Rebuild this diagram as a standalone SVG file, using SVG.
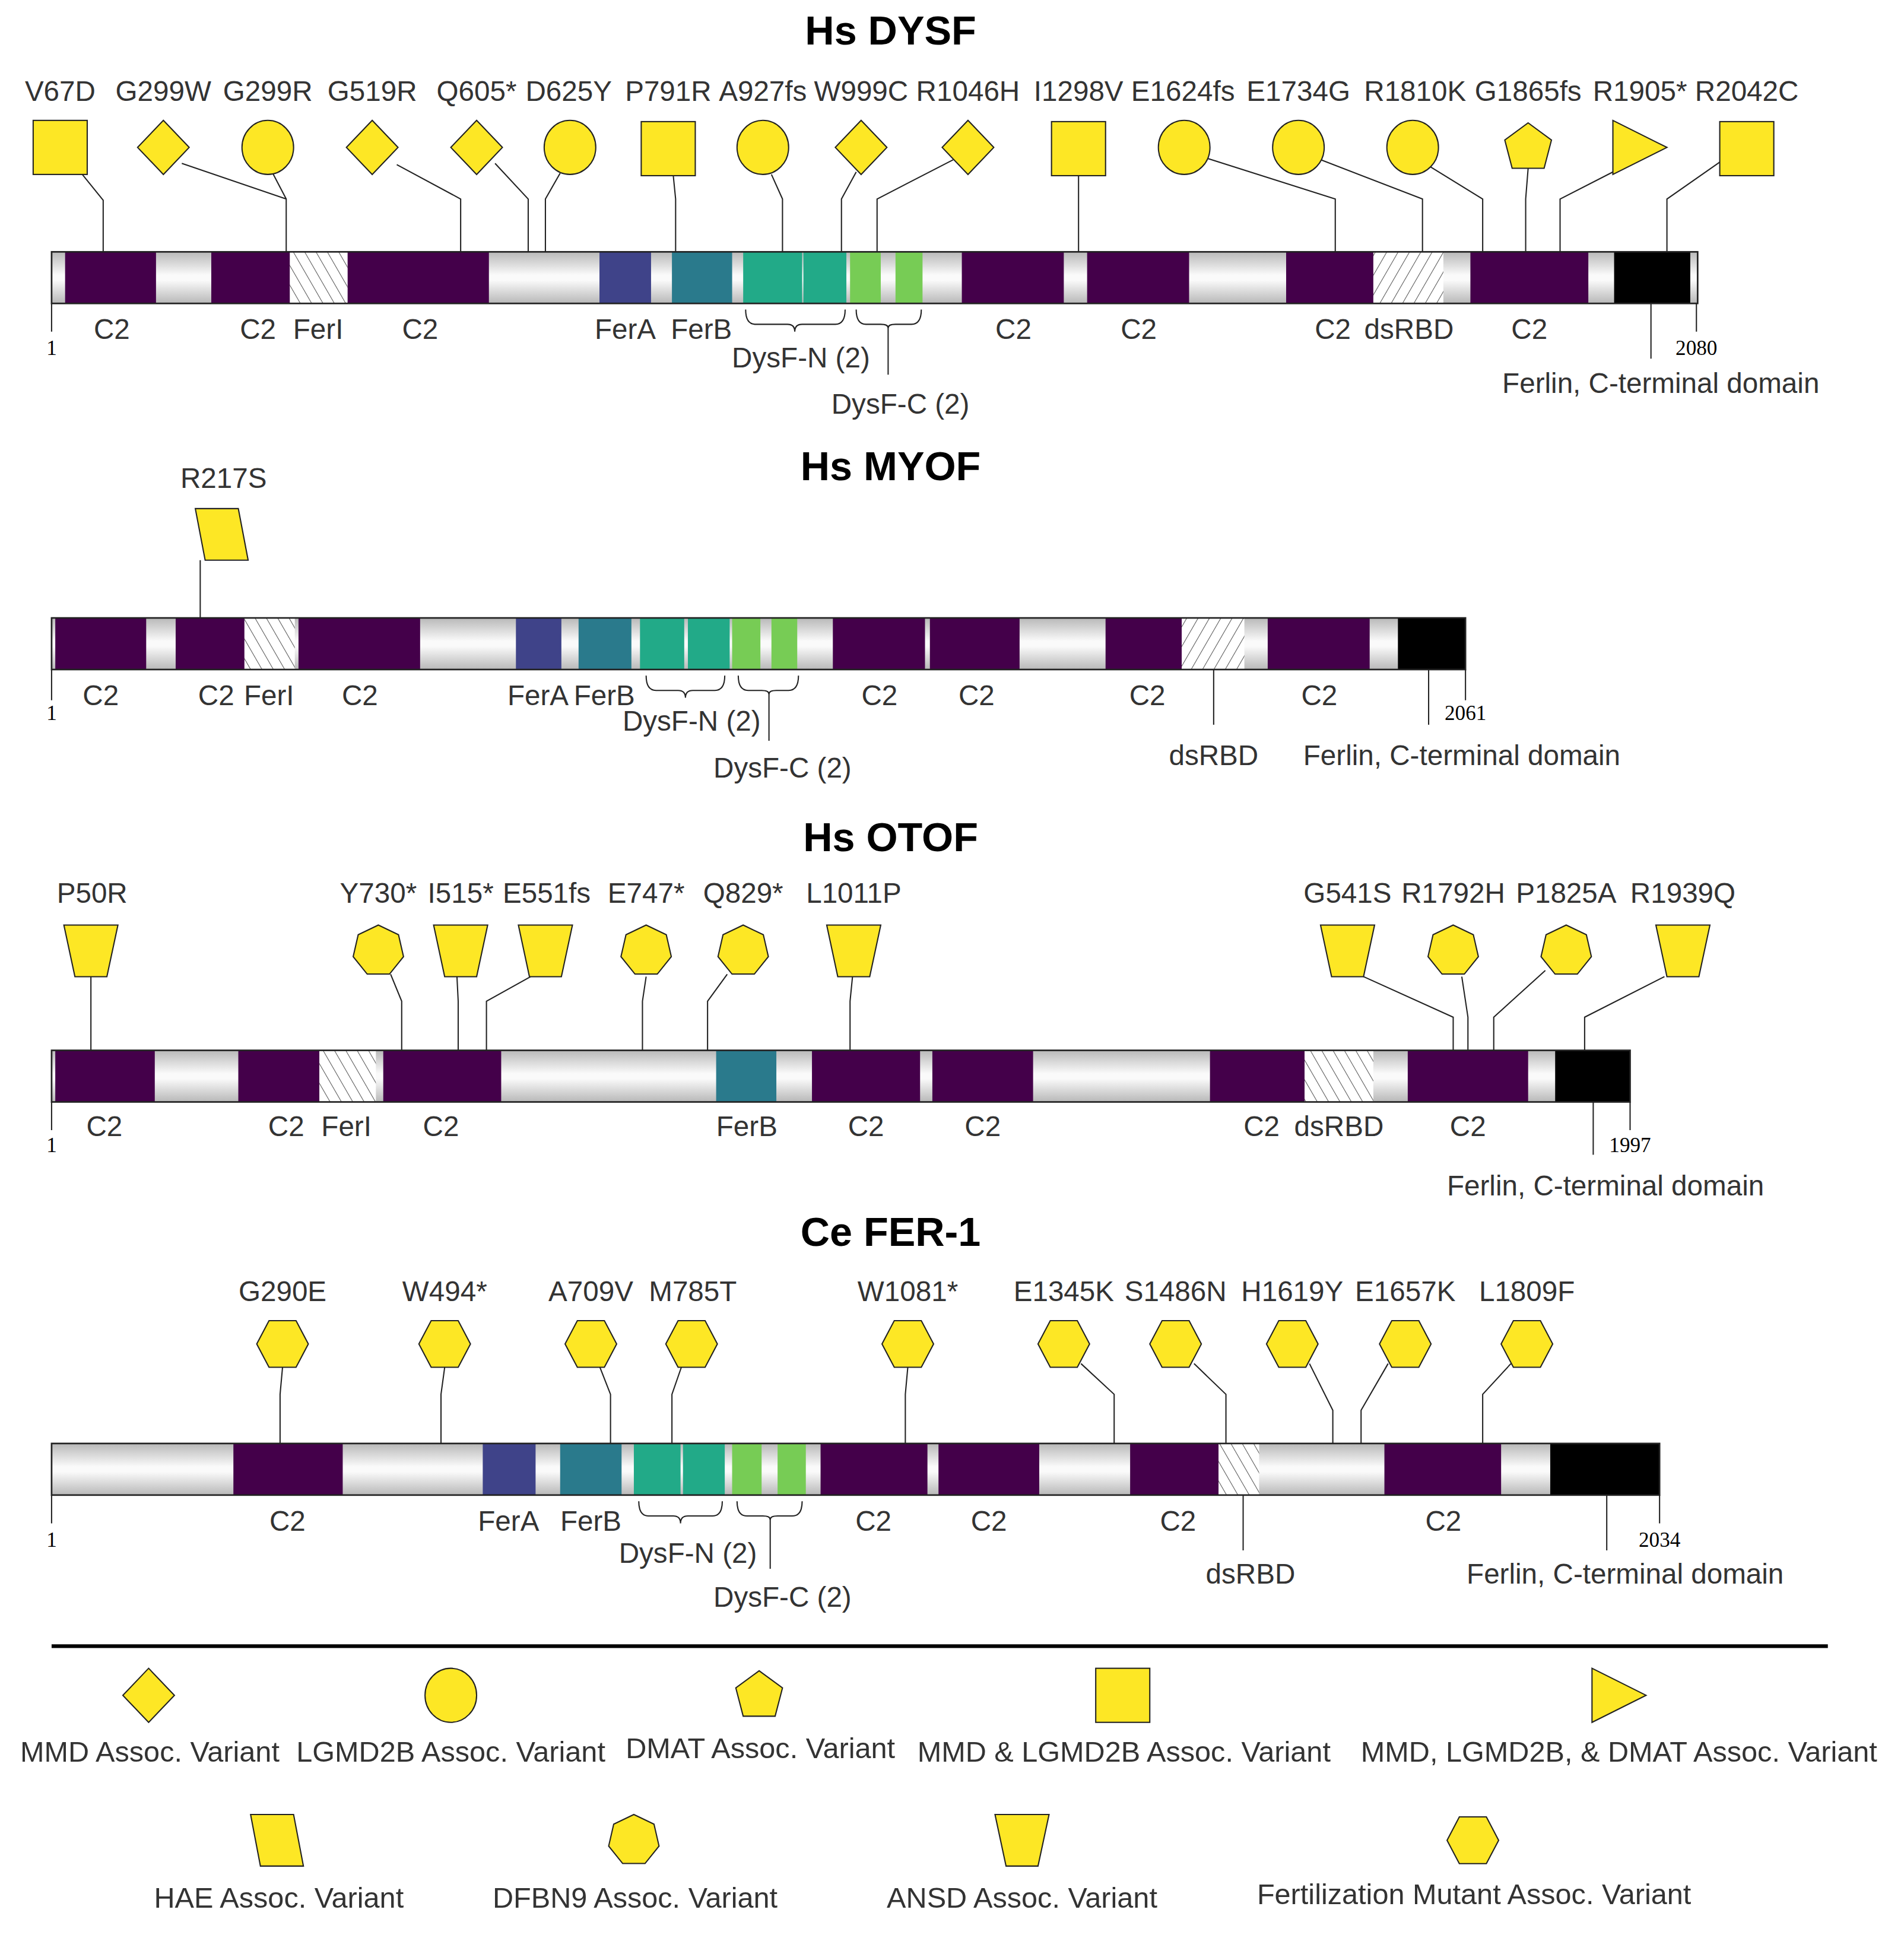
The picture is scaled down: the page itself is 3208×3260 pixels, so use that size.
<svg xmlns="http://www.w3.org/2000/svg" width="3208" height="3260" viewBox="0 0 3208 3260">
<style>
text{font-family:"Liberation Sans",Arial,sans-serif;fill:#333}
.t{font-size:33px;font-weight:bold;fill:#000;text-anchor:middle}
.m{font-size:23px;text-anchor:middle}
.d{font-size:23px;text-anchor:middle}
.n{font-family:"Liberation Serif",serif;font-size:17px;fill:#000;text-anchor:middle}
.lg{font-size:23.5px;text-anchor:middle}
.g{fill:url(#gr)}
.c2{fill:#44004a}
.fa{fill:#3f4389}
.fb{fill:#2a7a8c}
.dn{fill:#22aa88}
.dc{fill:#77cc55}
.k{fill:#000}
.h1{fill:url(#hb)}
.h2{fill:url(#hf)}
.o{fill:none;stroke:#222;stroke-width:1.3}
.s{fill:none;stroke:#222;stroke-width:1}
.y{fill:#fde725;stroke:#222;stroke-width:1}
</style>
<defs>
<linearGradient id="gr" x1="0" y1="0" x2="0" y2="1">
<stop offset="0" stop-color="#b8b8b8"/><stop offset="0.45" stop-color="#fafafa"/><stop offset="0.55" stop-color="#fafafa"/><stop offset="1" stop-color="#b8b8b8"/>
</linearGradient>
<pattern id="hb" width="8" height="8" patternUnits="userSpaceOnUse" patternTransform="rotate(-30)"><rect width="8" height="8" fill="#fff"/><line x1="0" y1="0" x2="0" y2="8" stroke="#555" stroke-width="1"/></pattern>
<pattern id="hf" width="8" height="8" patternUnits="userSpaceOnUse" patternTransform="rotate(30)"><rect width="8" height="8" fill="#fff"/><line x1="0" y1="0" x2="0" y2="8" stroke="#555" stroke-width="1"/></pattern>
<rect id="sq" class="y" x="-22" y="-22" width="44" height="44"/>
<polygon id="di" class="y" points="0,-22 21,0 0,22 -21,0"/>
<ellipse id="ci" class="y" rx="21" ry="22"/>
<polygon id="pe" class="y" points="0,-20 19,-6 13,17 -13,17 -19,-6"/>
<polygon id="tr" class="y" points="-22,-22 22,0 -22,22"/>
<polygon id="pa" class="y" points="-22,-21 13,-21 21,21 -14,21"/>
<polygon id="hp" class="y" points="0,-21 16.4,-13.1 20.5,4.7 9.1,18.9 -9.1,18.9 -20.5,4.7 -16.4,-13.1"/>
<polygon id="tz" class="y" points="-22,-21 22,-21 13,21 -13,21"/>
<polygon id="hx" class="y" points="-21,0 -11,-19 11,-19 21,0 11,19 -11,19"/>
</defs>
<rect width="3208" height="3260" fill="#fff"/>
<g transform="scale(2.0697)">

<!-- ============ DYSF ============ -->
<g id="dysf">
<text class="t" x="725" y="36">Hs DYSF</text>
<g id="dysf-bar">
<rect class="g" x="42" y="205" width="1340" height="42"/>
<rect class="c2" x="53" y="205" width="74" height="42"/>
<rect class="c2" x="172" y="205" width="64" height="42"/>
<rect class="h1" x="236" y="205" width="47" height="42"/>
<rect class="c2" x="283" y="205" width="115" height="42"/>
<rect class="fa" x="488" y="205" width="42" height="42"/>
<rect class="fb" x="547" y="205" width="49" height="42"/>
<rect class="dn" x="605" y="205" width="48" height="42"/>
<rect class="dn" x="654" y="205" width="35" height="42"/>
<rect class="dc" x="692" y="205" width="25" height="42"/>
<rect class="dc" x="729" y="205" width="22" height="42"/>
<rect class="c2" x="783" y="205" width="83" height="42"/>
<rect class="c2" x="885" y="205" width="83" height="42"/>
<rect class="c2" x="1047" y="205" width="71" height="42"/>
<rect class="h2" x="1118" y="205" width="57" height="42"/>
<rect class="c2" x="1197" y="205" width="96" height="42"/>
<rect class="k" x="1314" y="205" width="62" height="42"/>
<rect class="o" x="42" y="205" width="1340" height="42"/>
</g>
<g id="dysf-labels">
<text class="d" x="91" y="276">C2</text><text class="d" x="210" y="276">C2</text><text class="d" x="259" y="276">FerI</text><text class="d" x="342" y="276">C2</text>
<text class="d" x="509" y="276">FerA</text><text class="d" x="571" y="276">FerB</text><text class="d" x="825" y="276">C2</text><text class="d" x="927" y="276">C2</text>
<text class="d" x="1085" y="276">C2</text><text class="d" x="1147" y="276">dsRBD</text><text class="d" x="1245" y="276">C2</text>
<text class="n" x="42" y="289">1</text><text class="n" x="1381" y="289">2080</text>
<text class="d" x="652" y="299">DysF-N (2)</text><text class="d" x="733" y="337">DysF-C (2)</text>
<text class="d" x="1352" y="320">Ferlin, C-terminal domain</text>
</g>
</g>
<g id="dysf-connectors">
<path class="s" d="M42 247V270M1381 247V270M1344 247V292M723 266V305"/>
<path class="s" d="M607 252q0 12 8 12H641q6 0 6 6q0-6 6-6H680q8 0 8-12"/>
<path class="s" d="M697 252q0 12 8 12H717q6 0 6 3q0-3 6-3H742q8 0 8-12"/>
<path class="s" d="M67 142L84 163V205M148 133L233 162V205M222 141L233 162M323 134L375 162V205M403 133L430 162V205M456 141L444 162V205M548 142L550 162V205M628 142L637 162V205M697 140L685 162V205M776 130L714 162V205M878 142V205M980 128L1087 162V205M1070 128L1158 162V205M1160 133L1207 162V205M1244 137L1242 162V205M1313 140L1270 162V205M1400 132L1357 162V205"/>
</g>
<g id="dysf-mut">
<g id="m-V67D"><text class="m" x="49" y="82">V67D</text><use href="#sq" x="49" y="120"/></g>
<g id="m-G299W"><text class="m" x="133" y="82">G299W</text><use href="#di" x="133" y="120"/></g>
<g id="m-G299R"><text class="m" x="218" y="82">G299R</text><use href="#ci" x="218" y="120"/></g>
<g id="m-G519R"><text class="m" x="303" y="82">G519R</text><use href="#di" x="303" y="120"/></g>
<g id="m-Q605"><text class="m" x="388" y="82">Q605*</text><use href="#di" x="388" y="120"/></g>
<g id="m-D625Y"><text class="m" x="463" y="82">D625Y</text><use href="#ci" x="464" y="120"/></g>
<g id="m-P791R"><text class="m" x="544" y="82">P791R</text><use href="#sq" x="544" y="121"/></g>
<g id="m-A927fs"><text class="m" x="621" y="82">A927fs</text><use href="#ci" x="621" y="120"/></g>
<g id="m-W999C"><text class="m" x="701" y="82">W999C</text><use href="#di" x="701" y="120"/></g>
<g id="m-R1046H"><text class="m" x="788" y="82">R1046H</text><use href="#di" x="788" y="120"/></g>
<g id="m-I1298V"><text class="m" x="878" y="82">I1298V</text><use href="#sq" x="878" y="121"/></g>
<g id="m-E1624fs"><text class="m" x="963" y="82">E1624fs</text><use href="#ci" x="964" y="120"/></g>
<g id="m-E1734G"><text class="m" x="1057" y="82">E1734G</text><use href="#ci" x="1057" y="120"/></g>
<g id="m-R1810K"><text class="m" x="1152" y="82">R1810K</text><use href="#ci" x="1150" y="120"/></g>
<g id="m-G1865fs"><text class="m" x="1244" y="82">G1865fs</text><use href="#pe" x="1244" y="120"/></g>
<g id="m-R1905"><text class="m" x="1335" y="82">R1905*</text><use href="#tr" x="1335" y="120"/></g>
<g id="m-R2042C"><text class="m" x="1422" y="82">R2042C</text><use href="#sq" x="1422" y="121"/></g>
</g>

<!-- ============ MYOF ============ -->
<g id="myof">
<text class="t" x="725" y="391">Hs MYOF</text>
<g id="myof-bar">
<rect class="g" x="42" y="503" width="1151" height="42"/>
<rect class="c2" x="45" y="503" width="74" height="42"/>
<rect class="c2" x="143" y="503" width="56" height="42"/>
<rect class="h1" x="199" y="503" width="41" height="42"/>
<rect class="c2" x="243" y="503" width="99" height="42"/>
<rect class="fa" x="420" y="503" width="37" height="42"/>
<rect class="fb" x="471" y="503" width="43" height="42"/>
<rect class="dn" x="521" y="503" width="36" height="42"/>
<rect class="dn" x="560" y="503" width="34" height="42"/>
<rect class="dc" x="596" y="503" width="23" height="42"/>
<rect class="dc" x="628" y="503" width="21" height="42"/>
<rect class="c2" x="678" y="503" width="75" height="42"/>
<rect class="c2" x="757" y="503" width="73" height="42"/>
<rect class="c2" x="900" y="503" width="62" height="42"/>
<rect class="h2" x="962" y="503" width="51" height="42"/>
<rect class="c2" x="1032" y="503" width="83" height="42"/>
<rect class="k" x="1138" y="503" width="55" height="42"/>
<rect class="o" x="42" y="503" width="1151" height="42"/>
</g>
<g id="myof-labels">
<text class="d" x="82" y="574">C2</text><text class="d" x="176" y="574">C2</text><text class="d" x="219" y="574">FerI</text><text class="d" x="293" y="574">C2</text>
<text class="d" x="438" y="574">FerA</text><text class="d" x="492" y="574">FerB</text><text class="d" x="716" y="574">C2</text><text class="d" x="795" y="574">C2</text>
<text class="d" x="934" y="574">C2</text><text class="d" x="1074" y="574">C2</text>
<text class="n" x="42" y="586">1</text><text class="n" x="1193" y="586">2061</text>
<text class="d" x="563" y="595">DysF-N (2)</text><text class="d" x="637" y="633">DysF-C (2)</text>
<text class="d" x="988" y="623">dsRBD</text><text class="d" x="1190" y="623">Ferlin, C-terminal domain</text>
</g>
</g>
<g id="myof-connectors">
<path class="s" d="M42 545V570M1193 545V570M1163 545V590M988 545V590M626 564V603"/>
<path class="s" d="M526 550q0 12 8 12H552q6 0 6 6q0-6 6-6H582q8 0 8-12"/>
<path class="s" d="M601 550q0 12 8 12H620q6 0 6 3q0-3 6-3H642q8 0 8-12"/>
<path class="s" d="M163 456V503"/>
</g>
<g id="myof-mut">
<g id="m-R217S"><text class="m" x="182" y="397">R217S</text><use href="#pa" x="181" y="435"/></g>
</g>

<!-- ============ OTOF ============ -->
<g id="otof">
<text class="t" x="725" y="693">Hs OTOF</text>
<g id="otof-bar">
<rect class="g" x="42" y="855" width="1285" height="42"/>
<rect class="c2" x="45" y="855" width="81" height="42"/>
<rect class="c2" x="194" y="855" width="66" height="42"/>
<rect class="h1" x="260" y="855" width="46" height="42"/>
<rect class="c2" x="312" y="855" width="96" height="42"/>
<rect class="fb" x="583" y="855" width="49" height="42"/>
<rect class="c2" x="661" y="855" width="88" height="42"/>
<rect class="c2" x="759" y="855" width="82" height="42"/>
<rect class="c2" x="985" y="855" width="77" height="42"/>
<rect class="h1" x="1062" y="855" width="56" height="42"/>
<rect class="c2" x="1146" y="855" width="98" height="42"/>
<rect class="k" x="1266" y="855" width="61" height="42"/>
<rect class="o" x="42" y="855" width="1285" height="42"/>
</g>
<g id="otof-labels">
<text class="d" x="85" y="925">C2</text><text class="d" x="233" y="925">C2</text><text class="d" x="282" y="925">FerI</text><text class="d" x="359" y="925">C2</text>
<text class="d" x="608" y="925">FerB</text><text class="d" x="705" y="925">C2</text><text class="d" x="800" y="925">C2</text>
<text class="d" x="1027" y="925">C2</text><text class="d" x="1090" y="925">dsRBD</text><text class="d" x="1195" y="925">C2</text>
<text class="n" x="42" y="938">1</text><text class="n" x="1327" y="938">1997</text>
<text class="d" x="1307" y="973">Ferlin, C-terminal domain</text>
</g>
</g>
<g id="otof-connectors">
<path class="s" d="M42 897V920M1327 897V920M1297 897V940"/>
<path class="s" d="M74 795V855M318 793L327 815V855M372 795L373 815V855M432 795L396 815V855M526 795L523 815V855M592 793L576 815V855M694 795L692 815V855M1110 795L1183 828V855M1190 795L1195 828V855M1258 790L1216 828V855M1355 795L1290 828V855"/>
</g>
<g id="otof-mut">
<g id="m-P50R"><text class="m" x="75" y="735">P50R</text><use href="#tz" x="74" y="774"/></g>
<g id="m-Y730"><text class="m" x="308" y="735">Y730*</text><use href="#hp" x="308" y="774"/></g>
<g id="m-I515"><text class="m" x="375" y="735">I515*</text><use href="#tz" x="375" y="774"/></g>
<g id="m-E551fs"><text class="m" x="445" y="735">E551fs</text><use href="#tz" x="444" y="774"/></g>
<g id="m-E747"><text class="m" x="526" y="735">E747*</text><use href="#hp" x="526" y="774"/></g>
<g id="m-Q829"><text class="m" x="605" y="735">Q829*</text><use href="#hp" x="605" y="774"/></g>
<g id="m-L1011P"><text class="m" x="695" y="735">L1011P</text><use href="#tz" x="695" y="774"/></g>
<g id="m-G541S"><text class="m" x="1097" y="735">G541S</text><use href="#tz" x="1097" y="774"/></g>
<g id="m-R1792H"><text class="m" x="1183" y="735">R1792H</text><use href="#hp" x="1183" y="774"/></g>
<g id="m-P1825A"><text class="m" x="1275" y="735">P1825A</text><use href="#hp" x="1275" y="774"/></g>
<g id="m-R1939Q"><text class="m" x="1370" y="735">R1939Q</text><use href="#tz" x="1370" y="774"/></g>
</g>

<!-- ============ FER-1 ============ -->
<g id="fer1">
<text class="t" x="725" y="1014">Ce FER-1</text>
<g id="fer1-bar">
<rect class="g" x="42" y="1175" width="1309" height="42"/>
<rect class="c2" x="190" y="1175" width="89" height="42"/>
<rect class="fa" x="393" y="1175" width="43" height="42"/>
<rect class="fb" x="456" y="1175" width="50" height="42"/>
<rect class="dn" x="516" y="1175" width="38" height="42"/>
<rect class="dn" x="556" y="1175" width="34" height="42"/>
<rect class="dc" x="596" y="1175" width="24" height="42"/>
<rect class="dc" x="633" y="1175" width="23" height="42"/>
<rect class="c2" x="668" y="1175" width="87" height="42"/>
<rect class="c2" x="764" y="1175" width="82" height="42"/>
<rect class="c2" x="920" y="1175" width="72" height="42"/>
<rect class="h1" x="992" y="1175" width="33" height="42"/>
<rect class="c2" x="1127" y="1175" width="95" height="42"/>
<rect class="k" x="1262" y="1175" width="89" height="42"/>
<rect class="o" x="42" y="1175" width="1309" height="42"/>
</g>
<g id="fer1-labels">
<text class="d" x="234" y="1246">C2</text><text class="d" x="414" y="1246">FerA</text><text class="d" x="481" y="1246">FerB</text>
<text class="d" x="711" y="1246">C2</text><text class="d" x="805" y="1246">C2</text><text class="d" x="959" y="1246">C2</text><text class="d" x="1175" y="1246">C2</text>
<text class="n" x="42" y="1259">1</text><text class="n" x="1351" y="1259">2034</text>
<text class="d" x="560" y="1272">DysF-N (2)</text><text class="d" x="637" y="1308">DysF-C (2)</text>
<text class="d" x="1018" y="1289">dsRBD</text><text class="d" x="1323" y="1289">Ferlin, C-terminal domain</text>
</g>
</g>
<g id="fer1-connectors">
<path class="s" d="M42 1217V1240M1351 1217V1240M1308 1217V1262M1012 1217V1262M627 1236V1277"/>
<path class="s" d="M520 1222q0 12 8 12H548q6 0 6 6q0-6 6-6H580q8 0 8-12"/>
<path class="s" d="M600 1222q0 12 8 12H621q6 0 6 3q0-3 6-3H645q8 0 8-12"/>
<path class="s" d="M230 1113L228 1135V1175M362 1113L359 1135V1175M488 1112L497 1135V1175M555 1112L547 1135V1175M739 1113L737 1135V1175M880 1110L907 1135V1175M972 1110L998 1135V1175M1066 1110L1085 1148V1175M1130 1110L1108 1148V1175M1230 1110L1207 1135V1175"/>
</g>
<g id="fer1-mut">
<g id="m-G290E"><text class="m" x="230" y="1059">G290E</text><use href="#hx" x="230" y="1094"/></g>
<g id="m-W494"><text class="m" x="362" y="1059">W494*</text><use href="#hx" x="362" y="1094"/></g>
<g id="m-A709V"><text class="m" x="481" y="1059">A709V</text><use href="#hx" x="481" y="1094"/></g>
<g id="m-M785T"><text class="m" x="564" y="1059">M785T</text><use href="#hx" x="563" y="1094"/></g>
<g id="m-W1081"><text class="m" x="739" y="1059">W1081*</text><use href="#hx" x="739" y="1094"/></g>
<g id="m-E1345K"><text class="m" x="866" y="1059">E1345K</text><use href="#hx" x="866" y="1094"/></g>
<g id="m-S1486N"><text class="m" x="957" y="1059">S1486N</text><use href="#hx" x="957" y="1094"/></g>
<g id="m-H1619Y"><text class="m" x="1052" y="1059">H1619Y</text><use href="#hx" x="1052" y="1094"/></g>
<g id="m-E1657K"><text class="m" x="1144" y="1059">E1657K</text><use href="#hx" x="1144" y="1094"/></g>
<g id="m-L1809F"><text class="m" x="1243" y="1059">L1809F</text><use href="#hx" x="1243" y="1094"/></g>
</g>

<!-- ============ Legend ============ -->
<line x1="42" y1="1340" x2="1488" y2="1340" stroke="#000" stroke-width="3"/>
<g id="legend">
<g id="lg-mmd"><use href="#di" x="121" y="1380"/><text class="lg" x="122" y="1434">MMD Assoc. Variant</text></g>
<g id="lg-lgmd"><use href="#ci" x="367" y="1380"/><text class="lg" x="367" y="1434">LGMD2B Assoc. Variant</text></g>
<g id="lg-dmat"><use href="#pe" x="618" y="1380"/><text class="lg" x="619" y="1431">DMAT Assoc. Variant</text></g>
<g id="lg-mmdlgmd"><use href="#sq" x="914" y="1380"/><text class="lg" x="915" y="1434">MMD &amp; LGMD2B Assoc. Variant</text></g>
<g id="lg-all"><use href="#tr" x="1318" y="1380"/><text class="lg" x="1318" y="1434">MMD, LGMD2B, &amp; DMAT Assoc. Variant</text></g>
<g id="lg-hae"><use href="#pa" x="226" y="1498"/><text class="lg" x="227" y="1553">HAE Assoc. Variant</text></g>
<g id="lg-dfbn9"><use href="#hp" x="516" y="1498"/><text class="lg" x="517" y="1553">DFBN9 Assoc. Variant</text></g>
<g id="lg-ansd"><use href="#tz" x="832" y="1498"/><text class="lg" x="832" y="1553">ANSD Assoc. Variant</text></g>
<g id="lg-fert"><use href="#hx" x="1199" y="1498"/><text class="lg" x="1200" y="1550">Fertilization Mutant Assoc. Variant</text></g>
</g>
</g>
</svg>
